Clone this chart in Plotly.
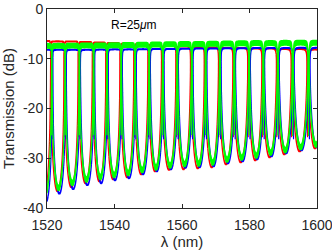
import numpy as np
import plotly.graph_objects as go

# ---------------- data ----------------
wl_range = [1520, 1600]
x_ticks = [1520, 1540, 1560, 1580, 1600]
y_ticks = [-40, -30, -20, -10, 0]
y_ticktext = ["-40", "-30", "-20", "-10", "0"]

# resonance wavelengths of the green device (nm); red/blue are slightly shifted
res_green = [1517.3, 1521.4, 1525.4, 1529.6, 1533.8, 1537.8, 1542.0, 1546.1,
             1550.3, 1554.3, 1558.6, 1562.9, 1567.0, 1571.2, 1575.5, 1579.9,
             1584.1, 1588.4, 1592.8, 1597.5, 1601.9]
res_shift_red = -0.3
res_shift_blue = 0.25

# through-port level between consecutive resonances (dB)
base_red = [-6.4, -6.5, -6.5, -6.6, -6.7, -6.8, -6.9, -7.0, -7.1, -7.3,
            -7.5, -7.6, -7.7, -7.8, -7.8, -7.9, -7.9, -8.0, -8.0, -8.1]
base_blue = [-8.2, -8.2, -8.2, -8.2, -8.15, -8.1, -8.1, -8.05, -8.0, -8.0,
             -7.95, -7.9, -7.9, -7.85, -7.85, -7.8, -7.8, -7.8, -7.75, -7.75]
base_green = [-7.4, -7.4, -7.35, -7.3, -7.3, -7.25, -7.2, -7.15, -7.1, -7.05,
              -7.0, -7.0, -6.95, -6.9, -6.85, -6.8, -6.8, -6.75, -6.7, -6.7]

# drop-port floor midway between resonances (dB)
floor_red = [-37.5, -36.6, -35.8, -35.0, -34.6, -34.2, -33.8, -33.2, -32.6, -32.3,
             -32.2, -32.0, -31.8, -31.2, -30.8, -30.4, -29.8, -29.2, -28.6, -28.0]
floor_blue = [-39.0, -37.1, -36.2, -35.4, -35.0, -34.4, -34.0, -33.2, -32.6, -32.2,
              -31.9, -31.8, -31.6, -31.0, -30.6, -30.2, -29.6, -29.0, -28.4, -27.8]
floor_green = [-37.6, -36.0, -35.0, -34.3, -33.8, -33.4, -33.0, -32.4, -31.9, -31.5,
               -31.2, -31.1, -30.9, -30.3, -29.9, -29.5, -28.9, -28.4, -27.8, -27.3]

notch_db = [-26.0, -26.0, -26.0]      # through-port notch bottom (red, blue, green)
drop_peak_db = [-9.0, -9.0, -9.0]     # drop-port peak (red, blue, green)
ripple_db = [0.2, 0.2, 0.6]           # measured trace band half-thickness (red, blue, green)
series_names = ["red", "blue", "green"]
series_colors = ["#ff0000", "#0000ff", "#00ff00"]

label_text = "R=25<i>μ</i>m"
label_pos = (1545.8, -3.2)


def ring_spectra(res, base, floor, notch, peak, ripple, x):
    res = np.asarray(res, dtype=float)
    k = np.clip(np.searchsorted(res, x, side="right") - 1, 0, len(res) - 2)
    lo, hi = res[k], res[k + 1]
    s2 = np.sin(np.pi * (x - lo) / (hi - lo)) ** 2
    fl = np.asarray(floor)[k]
    F = 10 ** ((peak - fl) / 10) - 1
    L = 1 / (1 + F * s2)
    drop = peak + 10 * np.log10(L)
    b = np.asarray(base)[k]
    eps = 10 ** ((notch - b) / 10)
    thr = b + 10 * np.log10(1 - (1 - eps) * L)
    rip = ripple * np.where(np.arange(len(x)) % 2 == 0, 1.0, -1.0)
    return thr + rip, drop + rip


fig = go.Figure()
grid = np.round(np.arange(wl_range[0], wl_range[1] + 1e-9, 0.01), 4)
shifts = [res_shift_red, res_shift_blue, 0.0]
bases = [base_red, base_blue, base_green]
floors = [floor_red, floor_blue, floor_green]

for i, name in enumerate(series_names):
    res = [r + shifts[i] for r in res_green]
    inside = [r for r in res if wl_range[0] <= r <= wl_range[1]]
    x = np.union1d(grid, np.round(inside, 4))
    thr, drop = ring_spectra(res, bases[i], floors[i], notch_db[i],
                             drop_peak_db[i], ripple_db[i], x)
    for yy in (thr, drop):
        fig.add_trace(go.Scatter(x=x, y=yy, mode="lines", name=name,
                                 line=dict(color=series_colors[i], width=1.2,
                                           simplify=False),
                                 hoverinfo="skip", showlegend=False))

axis_col = "#262626"
fig.update_layout(
    width=332, height=252,
    margin=dict(l=47, r=15, t=9, b=44, autoexpand=False),
    paper_bgcolor="white", plot_bgcolor="white",
    font=dict(family="Liberation Sans, Arial, sans-serif", size=14, color=axis_col),
    showlegend=False,
)
fig.update_xaxes(range=wl_range, tickvals=x_ticks, ticks="inside", ticklen=4,
                 tickcolor=axis_col, showline=True, linecolor=axis_col, linewidth=1,
                 mirror="ticks", showgrid=False, zeroline=False, automargin=False,
                 ticklabeloverflow="allow", ticklabelstandoff=4,
                 title=dict(text="λ (nm)", font=dict(size=15), standoff=2))
fig.update_yaxes(range=[-40, 0], tickvals=y_ticks, ticktext=y_ticktext,
                 ticks="inside", ticklen=4, tickcolor=axis_col, showline=True,
                 linecolor=axis_col, linewidth=1, mirror="ticks", showgrid=False,
                 zeroline=False, automargin=False, ticklabeloverflow="allow",
                 title=dict(text="Transmission (dB)", font=dict(size=15), standoff=4))
fig.add_annotation(x=label_pos[0], y=label_pos[1], text=label_text, showarrow=False,
                   xanchor="center", yanchor="middle",
                   font=dict(size=12, color="black"))

fig.write_html("out.html", config={"displayModeBar": False, "staticPlot": True},
               post_script="document.body.style.margin='0';")
